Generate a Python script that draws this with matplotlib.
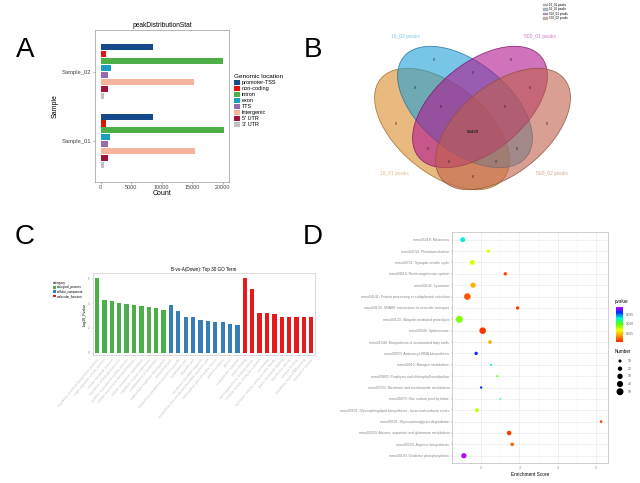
import matplotlib
matplotlib.use("Agg")
import matplotlib.pyplot as plt
from matplotlib.patches import Ellipse, Patch
from matplotlib.colors import LinearSegmentedColormap
import numpy as np

plt.rcParams['font.family'] = ['Liberation Sans', 'DejaVu Sans']

# ---------------- datos panel A
muestras = ["Sample_01", "Sample_02"]
regiones = ["promoter-TSS", "non-coding", "intron", "exon", "TTS",
            "Intergenic", "5' UTR", "3' UTR"]
conteo_s01 = [8550, 880, 20150, 1600, 1120, 15400, 1230, 470]
conteo_s02 = [8520, 860, 20100, 1640, 1150, 15350, 1250, 520]
colores_reg = ["#174a8b", "#e3120b", "#4caf47", "#1b9dc0", "#9b68ad",
               "#f7b39c", "#a3133a", "#bfbfbf"]

# ---------------- datos panel B
conjuntos = ["16_01 peaks", "16_02 peaks", "500_01 peaks", "500_02 peaks"]
regiones_venn = ["0"] * 7 + ["59439"] + ["0"] * 7

# ---------------- datos panel C
go_bp = ["regulation of cellular biosynthetic process",
         "single-organism cellular process", "cellular metabolic process",
         "regulation of biological process", "positive regulation of cellular process",
         "cellular response to chemical stimulus", "cellular component organization",
         "regulation of gene expression", "establishment of localization",
         "multicellular organism development"]
go_cc = ["intracellular part", "intracellular membrane-bounded organelle",
         "cytoplasmic part", "organelle part", "membrane-bounded organelle",
         "intracellular non-membrane-bounded organelle part",
         "nucleoplasm part of nuclear lumen", "protein complex", "cytosol",
         "endoplasmic reticulum"]
go_mf = ["protein binding", "transcription factor binding activity",
         "catalytic activity, acting on a protein", "ion binding",
         "hydrolase activity, acting on ester bonds", "purine nucleotide binding",
         "transferase activity", "enzyme binding",
         "regulatory region DNA binding", "transporter activity"]
val_bp = [6.03, 4.24, 4.22, 4.05, 3.95, 3.89, 3.81, 3.73, 3.62, 3.49]
val_cc = [3.84, 3.41, 2.86, 2.86, 2.68, 2.57, 2.49, 2.49, 2.30, 2.27]
val_mf = [6.03, 5.14, 3.24, 3.19, 3.11, 2.86, 2.86, 2.86, 2.86, 2.86]
categorias = ["biological_process", "cellular_component", "molecular_function"]
colores_cat = ["#4daf4a", "#377eb8", "#e41a1c"]

# ---------------- datos panel D
vias = ["mmu05218: Melanoma", "mmu04744: Phototransduction",
        "mmu04721: Synaptic vesicle cycle", "mmu04614: Renin-angiotensin system",
        "mmu04142: Lysosome", "mmu04141: Protein processing in endoplasmic reticulum",
        "mmu04130: SNARE interactions in vesicular transport",
        "mmu04120: Ubiquitin mediated proteolysis", "mmu03040: Spliceosome",
        "mmu01040: Biosynthesis of unsaturated fatty acids",
        "mmu00970: Aminoacyl-tRNA biosynthesis", "mmu00910: Nitrogen metabolism",
        "mmu00860: Porphyrin and chlorophyll metabolism",
        "mmu00760: Nicotinate and nicotinamide metabolism",
        "mmu00670: One carbon pool by folate",
        "mmu00601: Glycosphingolipid biosynthesis - lacto and neolacto series",
        "mmu00531: Glycosaminoglycan degradation",
        "mmu00250: Alanine, aspartate and glutamate metabolism",
        "mmu00220: Arginine biosynthesis", "mmu00190: Oxidative phosphorylation"]
enriquecimiento = [1.52, 2.19, 1.77, 2.63, 1.79, 1.64, 2.95, 1.43, 2.04, 2.23,
                   1.87, 2.26, 2.42, 2.00, 2.50, 1.89, 5.13, 2.73, 2.81, 1.55]
numero = [25, 12, 25, 12, 28, 45, 12, 50, 45, 14, 12, 5, 4, 6, 3, 15, 7, 22, 14, 28]
pvalor = [0.013, 0.007, 0.0072, 0.0015, 0.0045, 0.002, 0.0012, 0.009, 0.0010, 0.0045,
          0.016, 0.012, 0.0095, 0.016, 0.012, 0.0078, 0.0012, 0.0013, 0.0025, 0.0185]
niveles_num = [10, 20, 30, 40, 50]

W, H = 640, 483
fig = plt.figure(figsize=(6.4, 4.83), dpi=100)

def caja(x0, y0, x1, y1):
    # rectangulo en pixeles de la imagen (y hacia abajo) -> fraccion de figura
    return [x0 / W, 1 - y1 / H, (x1 - x0) / W, (y1 - y0) / H]

def bordes(ax, color="#9a9a9a"):
    for s in ax.spines.values():
        s.set_color(color)
        s.set_linewidth(0.5)

# letras de panel
for letra, x, y in [("A", 25, 50), ("B", 313, 50), ("C", 25, 237), ("D", 313, 237)]:
    fig.text(x / W, 1 - y / H, letra, fontsize=20, ha="center", va="center")

# ================= A
ax_a = fig.add_axes(caja(95, 30, 229.3, 181.7))
slot = 0.1
for i, conteos in enumerate([conteo_s01, conteo_s02]):
    for k, v in enumerate(conteos):
        ax_a.barh(i + 1 + (3.5 - k) * slot, v, height=0.088, color=colores_reg[k])
ax_a.set_xlim(-934, 21080)
ax_a.set_ylim(0.41, 2.60)
ax_a.set_yticks([1, 2])
ax_a.set_yticklabels(muestras, fontsize=4.2, color="#444444")
ax_a.set_xticks([0, 5000, 10000, 15000, 20000])
ax_a.set_xticklabels(["0", "5000", "10000", "15000", "20000"], fontsize=3.9, color="#444444")
ax_a.tick_params(length=1.5, width=0.4, pad=1, colors="#777777", labelcolor="#444444")
ax_a.set_xlabel("Count", fontsize=5, labelpad=0)
ax_a.set_ylabel("Sample", fontsize=5, labelpad=2)
ax_a.set_title("peakDistributionStat", fontsize=4.8, pad=2)
bordes(ax_a)
mano_a = [Patch(facecolor=c, label=r) for c, r in zip(colores_reg, regiones)]
fig.legend(handles=mano_a, title="Genomic location", loc="upper left",
           bbox_to_anchor=(234 / W, 1 - 74 / H), fontsize=4, title_fontsize=4.6,
           frameon=False, handlelength=1.1, handleheight=1.0, labelspacing=0.12,
           handletextpad=0.3, borderpad=0, borderaxespad=0)._legend_box.align = "left"

# ================= B
esc_y = 0.9  # el diagrama original esta algo aplastado en vertical
ax_b = fig.add_axes(caja(330, 0, 600, 200))
ax_b.set_xlim(330, 600)
ax_b.set_ylim(0, 200 / esc_y)
ax_b.axis("off")

def pb(px, py):
    return px, (200 - py) / esc_y

elipses = [((442, 129), -45, "#d98c2b", "#a0651c"),
           ((465, 107), -45, "#1fa0d8", "#1a6f95"),
           ((480, 107), 45, "#b0168e", "#7a1064"),
           ((503, 129), 45, "#c0604a", "#8a4f38")]
for (cx, cy), ang, fc, ec in elipses:
    ax_b.add_patch(Ellipse(pb(cx, cy), 166, 94, angle=ang, facecolor=fc,
                           alpha=0.6, edgecolor="none"))
    ax_b.add_patch(Ellipse(pb(cx, cy), 166, 94, angle=ang, facecolor="none",
                           edgecolor=ec, lw=0.6, alpha=0.8))
pos_venn = [(434.3, 60), (510.7, 60), (472.7, 72.7), (415, 87.7), (530, 87.7),
            (440.7, 106.7), (505, 106.7), (472.7, 132.3), (396, 124), (547.3, 124),
            (428.3, 149.3), (516.7, 149.3), (449.3, 162.3), (496, 162.3), (472.7, 176.7)]
for (px, py), t in zip(pos_venn, regiones_venn):
    ax_b.text(*pb(px, py), t, fontsize=3.2 if t != "0" else 2.6, ha="center",
              va="center", color="#222222", fontweight="bold" if t != "0" else "normal")
pos_nombres = [(394, 174), (405, 36.7), (540, 36.7), (552, 174)]
col_nombres = ["#e6b98a", "#7cc6e6", "#d07ac0", "#d3a68f"]
for (px, py), t, c in zip(pos_nombres, conjuntos, col_nombres):
    ax_b.text(*pb(px, py), t, fontsize=3.6, ha="center", va="center", color=c)
mano_b = [Patch(facecolor=c, edgecolor="#888888", lw=0.3, alpha=0.6, label=t)
          for c, t in zip(["#9a8f86", "#6f8fa8", "#8a4d86", "#a88474"], conjuntos)]
fig.legend(handles=mano_b, loc="upper left", bbox_to_anchor=(543 / W, 1 - 3 / H),
           fontsize=2.2, frameon=False, handlelength=1.6, handleheight=0.9,
           labelspacing=0.15, handletextpad=0.4, borderpad=0, borderaxespad=0)

# ================= C
ax_c = fig.add_axes(caja(92.7, 273.3, 315, 355))
valores = val_bp + val_cc + val_mf
terminos = go_bp + go_cc + go_mf
col_barras = [colores_cat[0]] * 10 + [colores_cat[1]] * 10 + [colores_cat[2]] * 10
xs = np.arange(len(valores))
ax_c.bar(xs, valores, width=0.58, color=col_barras)
ax_c.set_xlim(-0.59, 29.5)
ax_c.set_ylim(-0.19, 6.43)
ax_c.set_xticks(xs)
ax_c.set_xticklabels(terminos, rotation=50, ha="right", rotation_mode="anchor", fontsize=2.4)
for lab, c in zip(ax_c.get_xticklabels(), col_barras):
    lab.set_color(c)
    lab.set_alpha(0.55)
ax_c.set_yticks([0, 2, 4, 6])
ax_c.set_yticklabels(["0", "2", "4", "6"], fontsize=2.4, color="#666666")
ax_c.tick_params(length=1, width=0.3, pad=1, colors="#999999")
ax_c.set_ylabel("-log10_Pvalue", fontsize=2.6, labelpad=1)
ax_c.set_title("B-vs-A(Down): Top 30 GO Term", fontsize=3.3, pad=2)
bordes(ax_c, "#cccccc")
mano_c = [Patch(facecolor=c, label=t) for c, t in zip(colores_cat, categorias)]
fig.legend(handles=mano_c, title="category", loc="upper left",
           bbox_to_anchor=(53 / W, 1 - 281 / H), fontsize=2.2, title_fontsize=2.4,
           frameon=False, handlelength=1.0, handleheight=0.9, labelspacing=0.1,
           handletextpad=0.3, borderpad=0, borderaxespad=0)._legend_box.align = "left"

# ================= D
cmap = LinearSegmentedColormap.from_list(
    "pv", ["#ff2a00", "#ff9900", "#f2ff00", "#55ff00", "#00ffd5", "#0030ff", "#c800ff"])
ax_d = fig.add_axes(caja(452, 232, 608, 463))
ypos = np.arange(len(vias))
sc = ax_d.scatter(enriquecimiento, ypos, s=np.array(numero) * 0.5, c=pvalor, cmap=cmap,
                  vmin=0.0007, vmax=0.0188, zorder=3, linewidths=0)
ax_d.set_xlim(1.24, 5.31)
ax_d.set_ylim(len(vias) - 1 + 0.64, -0.68)
ax_d.set_yticks(ypos)
ax_d.set_yticklabels(vias, fontsize=2.5, color="#555555")
ax_d.set_xticks([2, 3, 4, 5])
ax_d.set_xticklabels(["2", "3", "4", "5"], fontsize=2.5, color="#555555")
ax_d.set_xticks([1.5, 2.5, 3.5, 4.5], minor=True)
ax_d.tick_params(length=1, width=0.3, pad=1, colors="#888888")
ax_d.tick_params(which="minor", length=0)
ax_d.grid(True, which="major", color="#e6e6e6", lw=0.4)
ax_d.grid(True, which="minor", axis="x", color="#f2f2f2", lw=0.3)
ax_d.set_axisbelow(True)
ax_d.set_xlabel("Enrichment Score", fontsize=3.4, labelpad=1.5)
bordes(ax_d, "#bbbbbb")

cax = fig.add_axes(caja(616, 306.7, 623.3, 341.7))
cb = fig.colorbar(sc, cax=cax)
cb.set_ticks([0.005, 0.010, 0.015])
cb.set_ticklabels(["0.005", "0.010", "0.015"])
cb.ax.tick_params(labelsize=2.3, length=1, width=0.3, pad=1, colors="#666666")
cb.outline.set_visible(False)
fig.text(615 / W, 1 - 301 / H, "pvalue", fontsize=3.3, va="center")

ax_n = fig.add_axes(caja(608, 356, 638, 396))
ax_n.set_xlim(0, 1)
ax_n.set_ylim(0, 1)
ax_n.axis("off")
yn = np.linspace(0.875, 0.107, len(niveles_num))
ax_n.scatter([0.4] * len(niveles_num), yn, s=np.array(niveles_num) * 0.5, color="black", linewidths=0)
for y, n in zip(yn, niveles_num):
    ax_n.text(0.67, y, str(n), fontsize=2.3, va="center", color="#555555")
fig.text(615 / W, 1 - 351.7 / H, "Number", fontsize=3.3, va="center")

fig.savefig("out.png", dpi=100)
